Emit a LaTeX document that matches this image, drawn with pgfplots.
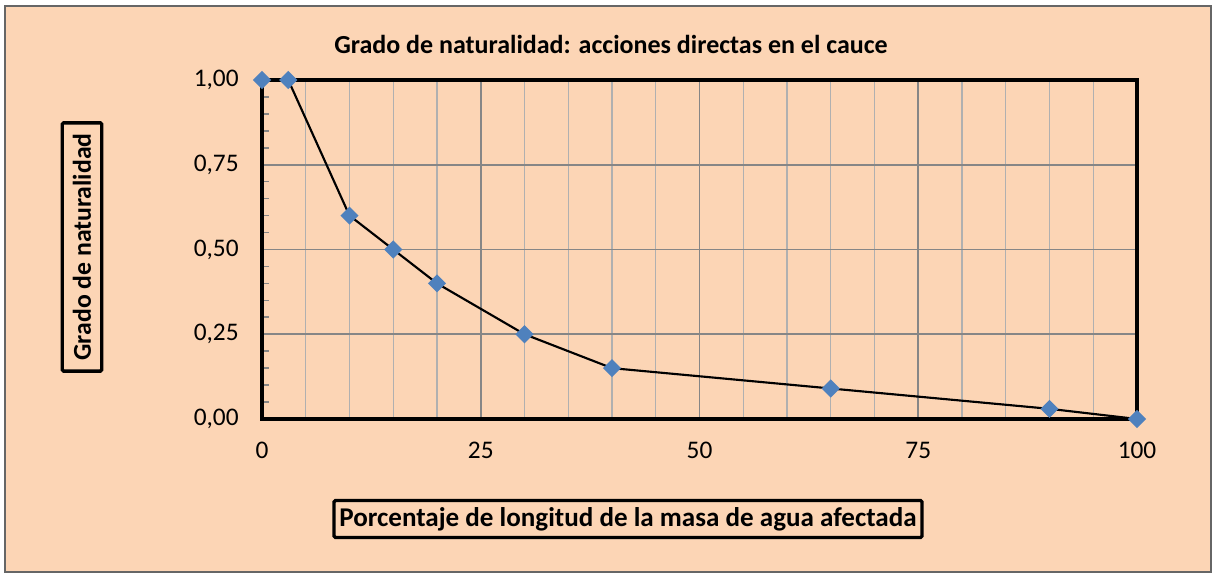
\documentclass[border=0pt]{standalone}
\usepackage{pgfplots}
\pgfplotsset{compat=1.18}
\usepackage{fontspec}
\setmainfont{Carlito}
\definecolor{peach}{HTML}{FCD5B5}
\definecolor{mblue}{HTML}{4F81BD}
\definecolor{gridminor}{HTML}{B0B0B0}
\definecolor{gridmajor}{HTML}{868686}
\pgfplotstableread{
x y
0 1
3 1
10 0.6
15 0.5
20 0.4
30 0.25
40 0.15
65 0.09
90 0.03
100 0
}\datatab
\begin{document}
\begin{tikzpicture}[x=0.75pt,y=0.75pt]
\fill[white] (0,0) rectangle (1216,577);
\fill[peach, draw=gray!80!black, line width=1.2pt] (5,5) rectangle (1211,571);
\node[font=\bfseries\fontsize{19.5}{23}\selectfont] at (611,533) {Grado de naturalidad: acciones directas en el cauce};
\node[draw=black, line width=2.5pt, rounded corners=1pt, font=\bfseries\fontsize{20.3}{24}\selectfont, inner xsep=4pt, inner ysep=5pt] at (628,58) {Porcentaje de longitud de la masa de agua afectada};
\node[draw=black, line width=2.5pt, rounded corners=1pt, rotate=90, font=\bfseries\fontsize{19.3}{23}\selectfont, inner xsep=8pt, inner ysep=8pt] at (82,330) {Grado de naturalidad};
\begin{axis}[
  at={(196.5pt,118.5pt)}, anchor=south west,
  scale only axis, width=656.25pt, height=254.25pt,
  xmin=0, xmax=100, ymin=0, ymax=1,
  xtick={0,25,50,75,100}, minor x tick num=4,
  ytick={0,0.25,0.5,0.75,1}, minor y tick num=4,
  xmajorgrids, xminorgrids, ymajorgrids,
  major grid style={gridmajor, line width=1.2pt},
  minor grid style={gridminor, line width=1.1pt},
  axis line style={black, line width=3pt},
  tick pos=left,
  xtick style={draw=none},
  minor x tick style={draw=none},
  ytick style={gridmajor, line width=1.2pt},
  major tick length=6pt, minor tick length=5pt,
  ticklabel style={font=\fontsize{19}{22}\selectfont},
  /pgf/number format/assume math mode=true,
  yticklabel style={/pgf/number format/.cd, fixed, fixed zerofill, precision=2, use comma},
  yticklabel shift=14pt,
  xticklabel shift=14pt,
  clip=false,
]
\addplot[black, line width=1.6pt, mark=square*, mark size=4pt, mark options={rotate=45, fill=mblue, draw=mblue}] table[x=x,y=y] {\datatab};
\end{axis}
\end{tikzpicture}
\end{document}
